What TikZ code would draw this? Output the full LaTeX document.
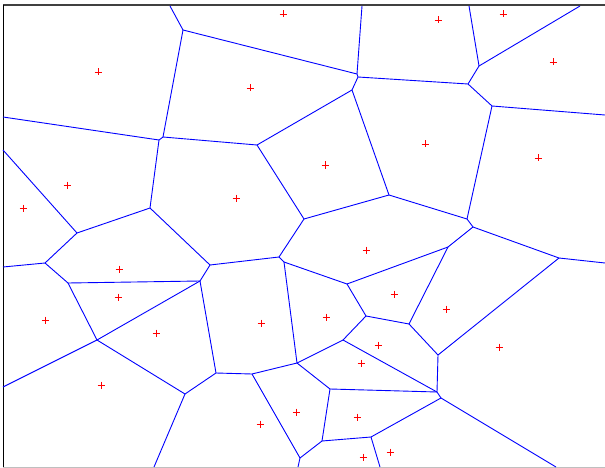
\documentclass[tikz,border=0pt]{standalone}
\begin{document}
\begin{tikzpicture}[x=1pt,y=-1pt,
  edge/.style={draw={rgb,255:red,0;green,0;blue,255},line width=0.9pt},
  sitemark/.style={draw=red,line width=0.9pt}]
\useasboundingbox (0,0) rectangle (605,468);
\fill[white] (0,0) rectangle (605,468);
% frame
\draw[line width=2pt,black!75] (3,5.5) -- (605,5.5);
\draw[line width=1pt,black] (3,5) -- (3,468);
\draw[line width=1pt,black!25] (3,467.5) -- (605,467.5);
% vertices
\coordinate (A) at (183,30);
\coordinate (B1) at (163,137);
\coordinate (B2) at (159,140);
\coordinate (C) at (357,74);
\coordinate (C2) at (358,77);
\coordinate (D) at (352,90);
\coordinate (E) at (257,145);
\coordinate (F) at (468,84);
\coordinate (G) at (479,66);
\coordinate (H) at (492,106);
\coordinate (I) at (77,233);
\coordinate (J) at (150,208);
\coordinate (K) at (210,265);
\coordinate (L) at (200,281);
\coordinate (M) at (68,283);
\coordinate (N) at (45,263);
\coordinate (O) at (304,219);
\coordinate (P) at (389,195);
\coordinate (Q) at (279,257);
\coordinate (Q2) at (284,262);
\coordinate (R) at (347,284);
\coordinate (S) at (366,316);
\coordinate (T) at (467,219);
\coordinate (U) at (473,227);
\coordinate (V) at (559,258);
\coordinate (W) at (448,247);
\coordinate (X) at (409,324);
\coordinate (Y) at (97,340);
\coordinate (Z) at (185,394);
\coordinate (AA) at (216,373);
\coordinate (AB) at (252,374);
\coordinate (AC) at (297,363);
\coordinate (AD) at (343,340);
\coordinate (AE) at (330,389);
\coordinate (AF) at (322,441);
\coordinate (AG) at (371,437);
\coordinate (AH) at (300,458);
\coordinate (AI) at (438,355);
\coordinate (AJ) at (437,392);
\coordinate (AK) at (441,398);
% border ends
\coordinate (t1) at (170,6);
\coordinate (t2) at (362,6);
\coordinate (t3) at (469,6);
\coordinate (t4) at (580,6);
\coordinate (r1) at (605,115);
\coordinate (r2) at (605,263);
\coordinate (l1) at (3,117);
\coordinate (l2) at (3,150);
\coordinate (l3) at (3,267);
\coordinate (l4) at (3,387);
\coordinate (b1) at (154,467);
\coordinate (b2) at (298,467);
\coordinate (b3) at (380,467);
\coordinate (b4) at (556,467);
% edges
\path[edge] (t1) -- (A);
\path[edge] (A) -- (B1);
\path[edge] (A) -- (C);
\path[edge] (t2) -- (C);
\path[edge] (C) -- (C2);
\path[edge] (C2) -- (D);
\path[edge] (C2) -- (F);
\path[edge] (t3) -- (G);
\path[edge] (G) -- (F);
\path[edge] (G) -- (t4);
\path[edge] (F) -- (H);
\path[edge] (H) -- (r1);
\path[edge] (H) -- (T);
\path[edge] (D) -- (E);
\path[edge] (D) -- (P);
\path[edge] (B1) -- (B2);
\path[edge] (B1) -- (E);
\path[edge] (l1) -- (B2);
\path[edge] (B2) -- (J);
\path[edge] (l2) -- (I);
\path[edge] (J) -- (I);
\path[edge] (J) -- (K);
\path[edge] (E) -- (O);
\path[edge] (O) -- (P);
\path[edge] (O) -- (Q);
\path[edge] (Q) -- (K);
\path[edge] (Q) -- (Q2);
\path[edge] (Q2) -- (R);
\path[edge] (Q2) -- (AC);
\path[edge] (K) -- (L);
\path[edge] (I) -- (N);
\path[edge] (N) -- (l3);
\path[edge] (N) -- (M);
\path[edge] (M) -- (L);
\path[edge] (M) -- (Y);
\path[edge] (L) -- (Y);
\path[edge] (L) -- (AA);
\path[edge] (Y) -- (l4);
\path[edge] (Y) -- (Z);
\path[edge] (Z) -- (AA);
\path[edge] (Z) -- (b1);
\path[edge] (AA) -- (AB);
\path[edge] (AB) -- (AC);
\path[edge] (AB) -- (AH);
\path[edge] (AC) -- (AD);
\path[edge] (AC) -- (AE);
\path[edge] (AD) -- (S);
\path[edge] (S) -- (R);
\path[edge] (S) -- (X);
\path[edge] (R) -- (W);
\path[edge] (W) -- (U);
\path[edge] (U) -- (T);
\path[edge] (T) -- (P);
\path[edge] (U) -- (V);
\path[edge] (V) -- (r2);
\path[edge] (W) -- (X);
\path[edge] (X) -- (AI);
\path[edge] (V) -- (AI);
\path[edge] (AI) -- (AJ);
\path[edge] (AD) -- (AJ);
\path[edge] (AE) -- (AJ);
\path[edge] (AJ) -- (AK);
\path[edge] (AK) -- (AG);
\path[edge] (AK) -- (b4);
\path[edge] (AE) -- (AF);
\path[edge] (AF) -- (AG);
\path[edge] (AG) -- (b3);
\path[edge] (AF) -- (AH);
\path[edge] (AH) -- (b2);
% sites
\foreach \sx/\sy in {98/72,283/14,250/88,438/20,503/14,553/62,425/144,538/158,
  325/165,236/198,67/185,23/208,119/269,118/297,45/320,156/333,101/385,
  261/323,326/317,366/250,394/294,446/309,378/345,361/363,499/347,
  296/412,260/424,357/417,363/457,390/452}
  \path[sitemark] (\sx-3.5,\sy) -- (\sx+3.5,\sy) (\sx,\sy-3.5) -- (\sx,\sy+3.5);
\end{tikzpicture}
\end{document}
